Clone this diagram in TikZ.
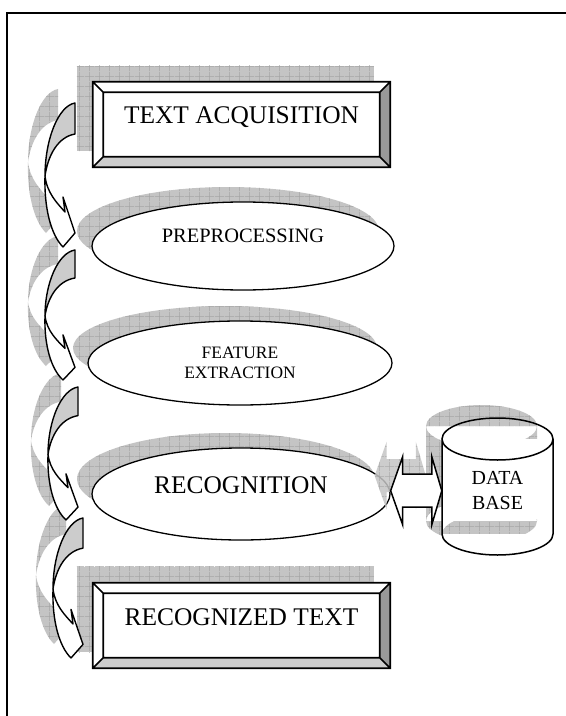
\documentclass[tikz,border=0pt]{standalone}
\usepackage{fontspec}
\setmainfont{Liberation Serif}
\usetikzlibrary{calc,patterns.meta,shapes.geometric}
\pgfdeclarelayer{back}
\pgfdeclarelayer{mid}
\pgfsetlayers{back,mid,main}
\definecolor{ocrshade}{HTML}{C4C4C4}
\definecolor{ocrgrid}{HTML}{A4A4A4}
\definecolor{ocrdark}{HTML}{999999}
\definecolor{ocrlight}{HTML}{CCCCCC}
\tikzset{
  ocrshadow/.style={fill=ocrshade,postaction={pattern={Hatch[angle=0,distance=10bp,line width=0.6bp]},pattern color=ocrgrid}},
  ocrbox/.style={rectangle,fill=white,inner sep=0pt,minimum width=297bp,minimum height=85bp,font=\fontsize{25.5}{30}\selectfont,text height=15bp,text depth=16bp},
  ocrstep/.style={ellipse,draw,line width=1.3bp,fill=white,inner sep=0pt,align=center},
  ocrline/.style={line width=1.7bp,line join=miter},
  ocrcurl/.style={draw,line width=1.4bp,line join=round},
  ocrblock/.style={draw,fill=white,line width=1.5bp,line join=miter}
}
% raised frame around a box node
\newcommand\bevelfaces[1]{%
  \fill[ocrdark] (#1.north east) -- (#1.south east) -- ([shift={(-10.5,-10.5)}]#1.south east) -- ([shift={(-10.5,10.5)}]#1.north east) -- cycle;
  \fill[ocrlight] (#1.south west) -- (#1.south east) -- ([shift={(-10.5,-10.5)}]#1.south east) -- ([shift={(10.5,-10.5)}]#1.south west) -- cycle;
  \draw[ocrline] (#1.north west) rectangle (#1.south east)
    ([shift={(10.5,10.5)}]#1.north west) rectangle ([shift={(-10.5,-10.5)}]#1.south east)
    (#1.north west) -- ++(10.5,10.5) (#1.north east) -- ++(-10.5,10.5)
    (#1.south west) -- ++(10.5,-10.5) (#1.south east) -- ++(-10.5,-10.5);}
% curled block arrow, top cut at (#1,#2), height #3
\newcommand\curlarrow[3]{%
  \begin{scope}[shift={(#1,#2)},yscale=#3/144]
    \filldraw[ocrcurl,fill=ocrlight] (0,0) .. controls (-17,3) and (-30,37) .. (-30,73)
      .. controls (-27,52) and (-17,34) .. (0,31) -- cycle;
    \filldraw[ocrcurl,fill=white] (-30,73) .. controls (-31,105) and (-24,132) .. (-12,144)
      -- (0,130) -- (-12,94) -- (-10,109) .. controls (-18,100) and (-28,90) .. (-30,73) -- cycle;
  \end{scope}}
\newcommand\curlshadow[3]{%
  \begin{scope}[shift={(#1,#2)},yscale=#3/144]
    \fill[ocrshadow] (0,0) .. controls (-17,3) and (-30,37) .. (-30,73)
      .. controls (-27,52) and (-17,34) .. (0,31) -- cycle
      (-30,73) .. controls (-31,105) and (-24,132) .. (-12,144)
      -- (0,130) -- (-12,94) -- (-10,109) .. controls (-18,100) and (-28,90) .. (-30,73) -- cycle;
  \end{scope}}
% left/right block arrow between two points
\newcommand\twohead[2]{(#1) -- ++(12,-34) -- ++(0,17.5) -- ($(#2)+(-10,-16.5)$) -- ++(0,-17.5) -- (#2)
  -- ++(-10,34) -- ++(0,-17.5) -- ($(#1)+(12,16.5)$) -- ++(0,17.5) -- cycle}

\begin{document}
\begin{tikzpicture}[x=1bp,y=-1bp]
\useasboundingbox (0,0) rectangle (566,716);
\draw[line width=1.6bp] (7,716) -- (7,13) -- (566,13);

\node[ocrbox] (acq) at (241.5,124.5) {TEXT ACQUISITION};
\node[ocrstep,minimum width=302bp,minimum height=88bp,font=\fontsize{20.5}{24}\selectfont,text height=12bp,text depth=20bp] (pre) at (243,246) {PREPROCESSING};
\node[ocrstep,minimum width=304bp,minimum height=84bp,font=\fontsize{17.5}{20}\selectfont] (feat) at (240,363) {FEATURE\\EXTRACTION};
\node[ocrstep,minimum width=298bp,minimum height=92bp,font=\fontsize{25.5}{30}\selectfont,text height=12bp,text depth=14bp] (rec) at (241,494) {RECOGNITION};
\node[ocrbox] (out) at (241.5,625.5) {RECOGNIZED TEXT};
\node[inner sep=0pt,minimum width=111bp,align=center,font=\fontsize{20}{25}\selectfont] (db) at (497.5,490.7) {DATA\\BASE};
\bevelfaces{acq}
\bevelfaces{out}

% shadows
\begin{pgfonlayer}{back}
\foreach \n in {acq,out}{\fill[ocrshadow] ([shift={(-16,-16)}]\n.north west) rectangle ([shift={(-16,-16)}]\n.south east);}
\fill[ocrshadow] (228,231) ellipse[x radius=151,y radius=44];
\fill[ocrshadow] (225,348) ellipse[x radius=152,y radius=42];
\fill[ocrshadow] (226,479) ellipse[x radius=149,y radius=46];
\fill[ocrshadow] (426,426) rectangle (537,521) (481.5,426) ellipse[x radius=55.5,y radius=21] (481.5,521) ellipse[x radius=55.5,y radius=21];
\foreach \cx/\cy/\h in {75/103/144,75/250/130,78/387/133,83/518/140}{\curlshadow{\cx-17}{\cy-14}{\h}}
\end{pgfonlayer}

% data base drum
\begin{pgfonlayer}{mid}
\fill[white] (442,439) rectangle (553,534) (497.5,534) ellipse[x radius=55.5,y radius=21];
\draw[line width=1.5bp] (442,439) -- (442,534) arc[start angle=180,end angle=0,x radius=55.5,y radius=21] -- (553,439)
  (497.5,439) ellipse[x radius=55.5,y radius=21];
\end{pgfonlayer}

\foreach \cx/\cy/\h in {75/103/144,75/250/130,78/387/133,83/518/140}{\curlarrow{\cx}{\cy}{\h}}

\path (rec.east |- db.west) coordinate (dbl) (db.west) coordinate (dbr);
\path ($(dbl)+(-16,-15)$) coordinate (sdl) ($(dbr)+(-16,-15)$) coordinate (sdr);
\fill[ocrshadow,fill opacity=0.85] \twohead{sdl}{sdr};
\filldraw[ocrblock] \twohead{dbl}{dbr};
\end{tikzpicture}
\end{document}
